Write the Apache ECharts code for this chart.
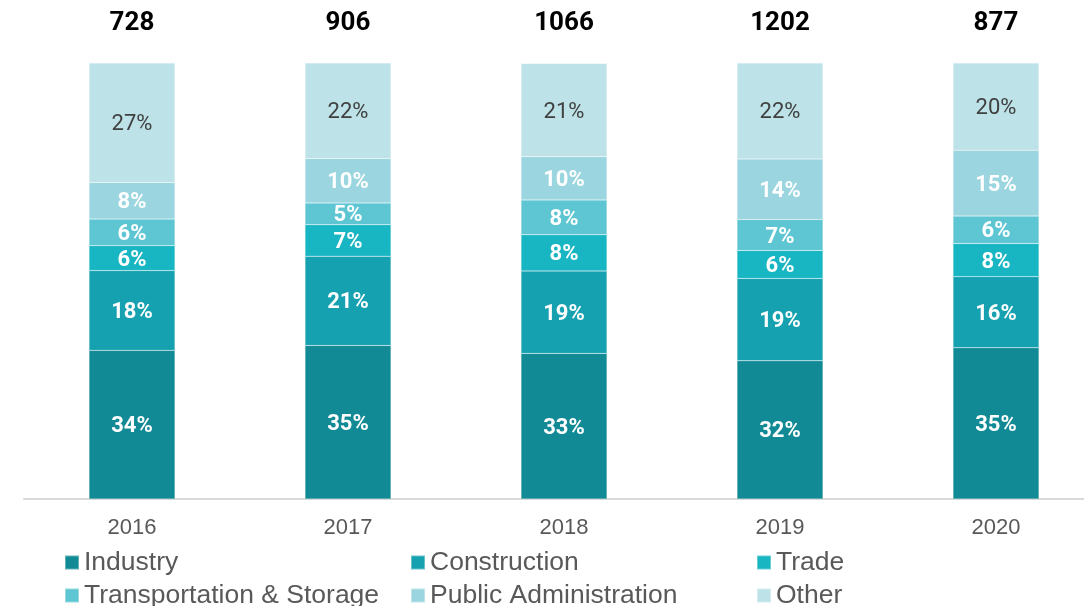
<!DOCTYPE html>
<html>
<head>
<meta charset="utf-8">
<script src="https://cdn.jsdelivr.net/npm/echarts@6/dist/echarts.min.js"></script>
<style>
  html, body { margin: 0; padding: 0; background: #fff; }
  #chart { width: 1084px; height: 606px; }
</style>
</head>
<body>
<div id="chart"></div>
<script>
const years = ["2016", "2017", "2018", "2019", "2020"];
const totals = [728, 906, 1066, 1202, 877];

// shares in %; labels show rounded values
const industry = [34.1, 35.2, 33.4, 31.7, 34.7];
const construction = [18.3, 20.5, 18.9, 18.9, 16.3];
const trade = [5.7, 7.2, 8.3, 6.4, 7.6];
const transport = [6.1, 5.0, 8.0, 7.1, 6.3];
const publicAdmin = [8.4, 10.2, 9.9, 13.9, 15.1];
const other = [27.4, 21.9, 21.4, 22.0, 20.0];

const seriesDefs = [
  { name: "Industry", data: industry, color: "#128a95" },
  { name: "Construction", data: construction, color: "#15a1b0" },
  { name: "Trade", data: trade, color: "#18b5c3" },
  { name: "Transportation & Storage", data: transport, color: "#5ec6d3" },
  { name: "Public Administration", data: publicAdmin, color: "#9bd5df" },
  { name: "Other", data: other, color: "#bde2e7" },
];

const chart = echarts.init(document.getElementById("chart"));

const series = seriesDefs.map((s) => ({
  name: s.name,
  type: "bar",
  stack: "total",
  barWidth: 86,
  data: s.data,
  itemStyle: { color: s.color, borderColor: "rgba(255,255,255,0.35)", borderWidth: 0.5 },
  label: {
    show: true,
    position: "inside",
    offset: [0, 2],
    formatter: (p) => Math.round(p.value) + "%",
    fontFamily: "Roboto",
    fontSize: 22,
    fontWeight: s.name === "Other" ? "normal" : "bold",
    color: s.name === "Other" ? "#404040" : "#ffffff",
  },
  emphasis: { disabled: true },
}));

// one legend per item so the 3-column grid is fixed
const legendPos = [
  [64, 549], [410, 549], [756, 549],
  [64, 582], [410, 582], [756, 582],
];
const legendOrder = ["Industry", "Construction", "Trade", "Transportation & Storage", "Public Administration", "Other"];
const legends = legendOrder.map((name, i) => ({
  left: legendPos[i][0],
  top: legendPos[i][1],
  padding: 0,
  itemWidth: 14,
  itemHeight: 14,
  itemGap: 0,
  icon: "rect",
  data: [name],
  textStyle: { fontFamily: "Liberation Sans", fontSize: 26.5, color: "#595959" },
  selectedMode: false,
}));

chart.setOption({
  animation: false,
  grid: { left: 24, right: -20, top: 63, bottom: 107, outerBoundsMode: "none" },
  xAxis: [
    {
      type: "category",
      data: years,
      axisTick: { show: false },
      axisLine: { lineStyle: { color: "#d9d9d9", width: 2 } },
      axisLabel: { fontFamily: "Liberation Sans", fontSize: 22, color: "#595959", margin: 18 },
    },
    {
      type: "category",
      position: "top",
      data: totals,
      axisTick: { show: false },
      axisLine: { show: false },
      axisLabel: { fontFamily: "Roboto", fontSize: 26, fontWeight: "bold", color: "#000", margin: 27 },
    },
  ],
  yAxis: { type: "value", min: 0, max: 100, show: false },
  legend: legends,
  series: series,
});
</script>
</body>
</html>
